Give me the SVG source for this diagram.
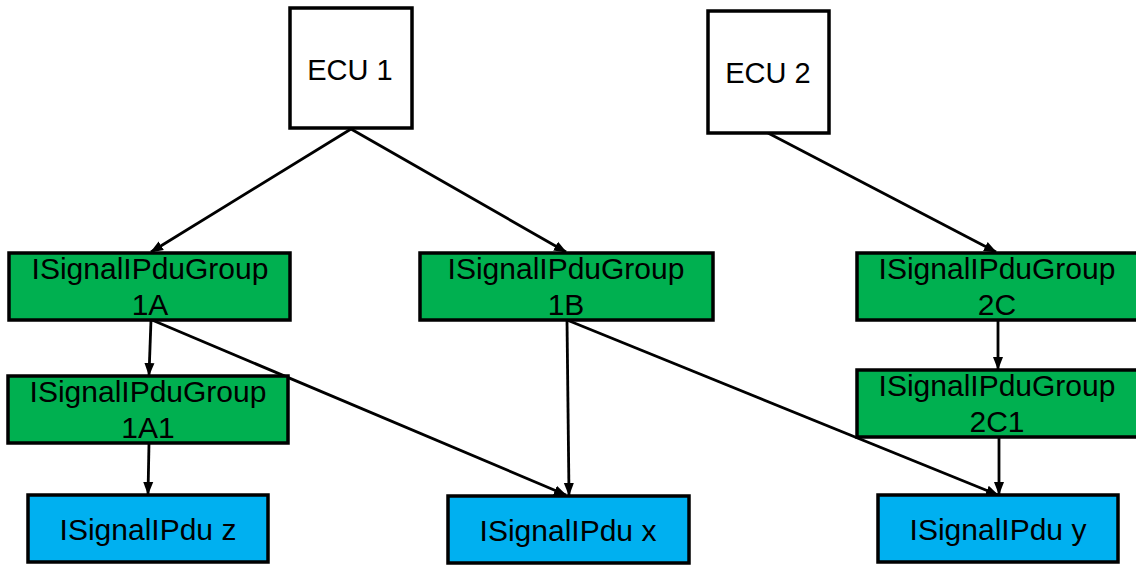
<svg xmlns="http://www.w3.org/2000/svg" width="1136" height="565" viewBox="0 0 1136 565">
<style>
.ecu{fill:#ffffff;stroke:#000;stroke-width:3.5}
.grp{fill:#00b050;stroke:#000;stroke-width:3.5}
.pdu{fill:#00b0f0;stroke:#000;stroke-width:3.5}
text{font-family:"Liberation Sans",Arial,sans-serif;font-size:30px;fill:#000;text-anchor:middle}
.c line{stroke:#000;stroke-width:2.8;marker-end:url(#ah)}
</style>
<defs>
<marker id="ah" markerUnits="userSpaceOnUse" markerWidth="13" markerHeight="13" viewBox="0 0 13 13" refX="12" refY="6.5" orient="auto">
<path d="M0,1.5 L13,6.5 L0,11.5 Z" fill="#000"/>
</marker>
</defs>
<g class="c" id="connectors">
<line x1="351" y1="129" x2="151" y2="252"/>
<line x1="351" y1="129" x2="566" y2="252"/>
<line x1="768" y1="133" x2="996" y2="252"/>
<line x1="151" y1="320" x2="149" y2="375"/>
<line x1="152" y1="320" x2="566" y2="495"/>
<line x1="149" y1="443" x2="148" y2="494"/>
<line x1="567" y1="320" x2="569" y2="495"/>
<line x1="567" y1="320" x2="998" y2="495"/>
<line x1="998" y1="320" x2="998" y2="369"/>
<line x1="999" y1="437" x2="999" y2="494"/>
</g>
<g id="ecu1"><rect class="ecu" x="290" y="8" width="122" height="120"/><text x="350" y="80" style="font-size:29px">ECU 1</text></g>
<g id="ecu2"><rect class="ecu" x="708" y="11" width="121" height="122"/><text x="768" y="83" style="font-size:29px">ECU 2</text></g>
<g id="g1a"><rect class="grp" x="9" y="253" width="281" height="67"/><text x="150" y="279">ISignalIPduGroup</text><text x="150" y="315">1A</text></g>
<g id="g1a1"><rect class="grp" x="8" y="376" width="280" height="67"/><text x="148" y="402">ISignalIPduGroup</text><text x="148" y="438">1A1</text></g>
<g id="g1b"><rect class="grp" x="420" y="253" width="293" height="67"/><text x="566" y="279">ISignalIPduGroup</text><text x="566" y="315">1B</text></g>
<g id="g2c"><rect class="grp" x="857" y="253" width="282" height="67"/><text x="997" y="279">ISignalIPduGroup</text><text x="997" y="315">2C</text></g>
<g id="g2c1"><rect class="grp" x="857" y="370" width="282" height="67"/><text x="997" y="396">ISignalIPduGroup</text><text x="997" y="432">2C1</text></g>
<g id="pduz"><rect class="pdu" x="28" y="495" width="240" height="67"/><text x="148" y="540">ISignalIPdu z</text></g>
<g id="pdux"><rect class="pdu" x="448" y="496" width="241" height="67"/><text x="568" y="541">ISignalIPdu x</text></g>
<g id="pduy"><rect class="pdu" x="878" y="495" width="240" height="67"/><text x="998" y="540">ISignalIPdu y</text></g>
</svg>
